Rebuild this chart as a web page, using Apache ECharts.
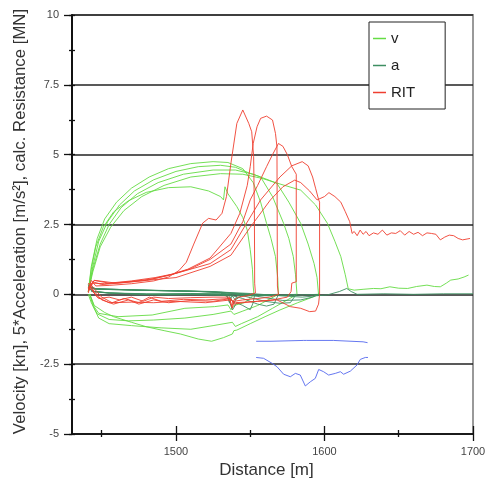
<!DOCTYPE html>
<html><head><meta charset="utf-8">
<script src="https://cdn.jsdelivr.net/npm/echarts@6/dist/echarts.min.js"></script>
<style>html,body{margin:0;padding:0;background:#fff;overflow:hidden}#c{width:485px;height:478px}</style>
</head><body><div id="c"></div>
<script>
// ---- x axis range / ticks ----
const xMin = 1430, xMax = 1700;
const xMajorTicks = [1500, 1600, 1700];
const xMinorTicks = [1450, 1550, 1650];
const yMin = -5, yMax = 10, yStep = 2.5;

// ---- velocity v [kn]: forward runs and reverse runs ----
const vRun1 = [[1441,0.1],[1443,0.9],[1446,1.7],[1451,2.4],[1458,2.95],[1468,3.35],[1480,3.65],[1495,3.82],[1510,3.85],[1522,3.7],[1530,3.5],[1532,3.38],[1533,3.85],[1535,3.6],[1541,3.14],[1545,2.75],[1548,2.3],[1550,1.6],[1551.5,0.9],[1552,0.3],[1552.5,0]];
const vBack1 = [[1552.5,0],[1550,-0.15],[1546,-0.3],[1539,-0.4],[1537,-0.55],[1535,-0.38],[1526,-0.44],[1506,-0.5],[1484,-0.74],[1461,-0.8],[1448,-0.68],[1445,-0.45],[1442,0]];
const vRun2 = [[1441,0.1],[1443,1.0],[1447,2.0],[1452,2.7],[1460,3.3],[1470,3.8],[1482,4.2],[1495,4.5],[1510,4.68],[1525,4.75],[1535,4.72],[1545,4.5],[1552,4.0],[1557,3.3],[1561,2.54],[1564,2.0],[1567,1.35],[1568.5,0.6],[1569,0]];
const vBack2 = [[1569,0],[1562,-0.2],[1555,-0.4],[1545,-0.6],[1539,-0.72],[1537,-0.6],[1525,-0.72],[1506,-0.85],[1485,-0.92],[1468,-0.95],[1455,-0.9],[1447,-0.7],[1443,-0.3],[1441,0]];
const vRun3 = [[1441,0.1],[1444,1.0],[1448,1.9],[1454,2.6],[1462,3.2],[1472,3.7],[1485,4.1],[1500,4.4],[1515,4.57],[1530,4.62],[1540,4.55],[1549,4.35],[1557,4.2],[1565,3.5],[1572.5,2.54],[1576,2.0],[1579,1.35],[1580.5,0.7],[1581.5,0]];
const vBack3 = [[1581.5,0],[1575,-0.2],[1565,-0.5],[1555,-0.8],[1544,-1.05],[1540,-1.15],[1538,-1.0],[1525,-1.12],[1510,-1.25],[1490,-1.2],[1470,-1.12],[1455,-1.05],[1448,-0.85],[1444,-0.4],[1442,0]];
const vRun4 = [[1441,0.1],[1444,0.9],[1449,1.8],[1455,2.5],[1463,3.1],[1474,3.6],[1488,4.0],[1505,4.3],[1525,4.45],[1540,4.45],[1552,4.3],[1562,4.1],[1568,3.97],[1576,3.3],[1584,2.54],[1589,1.8],[1593,1.1],[1595,0.6],[1596,0]];
const vBack4 = [[1596,0],[1592,-0.1],[1582,-0.3],[1570,-0.56],[1560,-0.8],[1550,-1.05],[1541,-1.28],[1539,-1.3],[1538,-1.42],[1532,-1.55],[1524,-1.68],[1515,-1.6],[1503,-1.42],[1492,-1.3],[1480,-1.16],[1470,-1.0],[1458,-0.8],[1452,-0.65],[1445,-0.4],[1442,0]];
const vRun5 = [[1441,0.1],[1444,0.8],[1449,1.7],[1456,2.4],[1465,3.0],[1477,3.5],[1492,3.9],[1510,4.2],[1530,4.32],[1545,4.3],[1558,4.15],[1570,3.95],[1584,3.73],[1594,3.2],[1602,2.54],[1607,1.9],[1611,1.35],[1614,0.7],[1616,0.2],[1620,0.15],[1626,0.18],[1633,0.21],[1638,0.2],[1644,0.27],[1650,0.22],[1656,0.21],[1662,0.28],[1669,0.33],[1674,0.28],[1678,0.27],[1682,0.4],[1685,0.51],[1690,0.55],[1694,0.62],[1697,0.69]];

// ---- 5*acceleration a ----
const aRun1 = [[1441,0.35],[1443,0.22],[1450,0.18],[1470,0.15],[1500,0.12],[1520,0.1],[1530,0.06],[1535,-0.1],[1538,-0.56],[1541,-0.3],[1545,-0.4],[1550,-0.55],[1552,-0.3],[1553,0]];
const aBack1 = [[1553,0],[1545,0.03],[1530,0.02],[1510,0.0],[1490,-0.02],[1470,0.02],[1455,0.05],[1445,0.1],[1441,0.2]];
const aRun2 = [[1441,0.3],[1445,0.2],[1465,0.17],[1490,0.13],[1515,0.1],[1530,0.06],[1538,-0.05],[1545,-0.15],[1555,-0.35],[1561,-0.42],[1566,-0.35],[1569,0]];
const aBack2 = [[1569,0],[1555,-0.02],[1538,0.0],[1536,-0.3],[1534,0.0],[1510,0.02],[1480,0.0],[1455,0.04],[1444,0.1],[1441,0.25]];
const aRun3 = [[1441,0.25],[1445,0.18],[1470,0.16],[1500,0.13],[1525,0.1],[1540,0.02],[1550,-0.12],[1560,-0.25],[1570,-0.32],[1577,-0.3],[1581,0]];
const aBack3 = [[1581,0],[1565,-0.05],[1545,-0.02],[1540,-0.2],[1537,0.0],[1510,0.03],[1480,0.0],[1455,0.05],[1443,0.1]];
const aRun4 = [[1441,0.3],[1446,0.2],[1475,0.15],[1505,0.12],[1530,0.08],[1545,0.02],[1560,-0.12],[1572,-0.22],[1584,-0.2],[1592,-0.1],[1596,0]];
const aBack4 = [[1596,0],[1580,-0.03],[1560,-0.05],[1541,-0.05],[1539,-0.35],[1536,-0.05],[1510,0.0],[1480,0.02],[1455,0.05],[1443,0.12]];
const aRun5 = [[1441,0.3],[1446,0.2],[1475,0.15],[1505,0.12],[1530,0.08],[1550,0.03],[1570,-0.05],[1585,-0.1],[1595,-0.05],[1602,-0.02],[1610,0.1],[1615,0.21],[1618,0.1],[1622,0.0],[1640,0.02],[1660,0.0],[1680,0.02],[1700,0.02]];

// ---- calc. resistance RIT [MN] ----
const ritRun1 = [[1441,0.2],[1443,0.5],[1446,0.3],[1455,0.32],[1470,0.38],[1485,0.48],[1495,0.62],[1502,0.85],[1507,1.15],[1512,1.8],[1518,2.55],[1522,2.72],[1527,2.66],[1531,2.9],[1534,3.5],[1537,4.69],[1541,6.12],[1545,6.6],[1549,6.12],[1551,5.82],[1552.3,4.93],[1552.8,3.0],[1553,0.4],[1553.5,0.05]];
const ritBack1 = [[1553.5,0.05],[1548,-0.05],[1542,-0.1],[1539,-0.2],[1537.5,-0.45],[1536,-0.1],[1525,-0.1],[1510,-0.12],[1495,-0.15],[1485,-0.1],[1478,-0.25],[1470,-0.1],[1462,-0.2],[1455,-0.1],[1448,-0.15],[1444,0.1],[1442,0.3],[1441,0.05]];
const ritRun2 = [[1441,0.15],[1444,0.45],[1450,0.35],[1465,0.42],[1480,0.5],[1495,0.68],[1508,0.9],[1523,1.3],[1537,2.18],[1543,2.9],[1548,3.9],[1550,4.57],[1552,5.4],[1554.6,6.0],[1557,6.3],[1561,6.38],[1565,6.24],[1567,5.76],[1568,5.28],[1568.3,0.3],[1569,0]];
const ritBack2 = [[1569,0],[1563,-0.1],[1555,-0.15],[1545,-0.2],[1539,-0.25],[1538,-0.5],[1536,-0.15],[1520,-0.2],[1505,-0.18],[1490,-0.25],[1482,-0.1],[1475,-0.3],[1465,-0.15],[1457,-0.3],[1450,-0.1],[1445,0.2],[1442,0.4]];
const ritRun3 = [[1441,0.1],[1444,0.4],[1452,0.38],[1468,0.45],[1484,0.55],[1498,0.72],[1510,0.92],[1523,1.25],[1537,1.8],[1545,2.6],[1550,3.38],[1555,3.9],[1561,4.57],[1565,5.0],[1569,5.4],[1572,5.3],[1575,5.0],[1578,4.57],[1581,4.3],[1581,0.45],[1578,0.4],[1577.5,0.1]];
const ritBack3 = [[1577.5,0.1],[1575,-0.1],[1565,-0.2],[1555,-0.25],[1545,-0.3],[1539,-0.35],[1537,-0.15],[1525,-0.25],[1510,-0.22],[1495,-0.3],[1485,-0.2],[1475,-0.35],[1468,-0.2],[1458,-0.35],[1450,-0.2],[1445,0.1],[1442,0.3]];
const ritRun4 = [[1441,0.25],[1445,0.5],[1455,0.4],[1470,0.48],[1486,0.6],[1500,0.75],[1523,1.1],[1537,1.6],[1547,2.5],[1557,3.38],[1570,4.2],[1578,4.6],[1585,4.75],[1589,4.6],[1592,4.2],[1594,3.8],[1596,3.4],[1596.7,3.3],[1596.7,0],[1596,-0.35]];
const ritBack4 = [[1596,-0.35],[1594,-0.6],[1590,-0.62],[1584,-0.5],[1577,-0.44],[1568,-0.2],[1555,-0.25],[1540,-0.3],[1537,-0.2],[1520,-0.3],[1500,-0.25],[1485,-0.3],[1470,-0.28],[1455,-0.3],[1447,-0.1],[1443,0.2],[1441,0.4]];
const ritRun5 = [[1441,0.2],[1445,0.5],[1460,0.4],[1480,0.5],[1500,0.6],[1523,1.0],[1537,1.4],[1550,2.4],[1563.6,3.38],[1572,3.85],[1580,4.09],[1584,4.0],[1590,3.7],[1595,3.38],[1600,3.5],[1603,3.64],[1607,3.5],[1611,3.3],[1614,2.96],[1617,2.6],[1618.6,2.18],[1620,2.25],[1622,2.1],[1624,2.3],[1626,2.15],[1628,2.25],[1630,2.1],[1633,2.2],[1636,2.15],[1639,2.3],[1642,2.12],[1645,2.2],[1648,2.18],[1651,2.28],[1654,2.12],[1657,2.25],[1660,2.15],[1663,2.22],[1666,2.1],[1669,2.2],[1672,2.18],[1675,2.15],[1678,1.95],[1681,2.05],[1684,2.12],[1687,2.1],[1690,2.0],[1693,1.95],[1696,1.98],[1698,2.0]];

// ---- blue profile lines ----
const blueUpper = [[1554,-1.68],[1564,-1.68],[1565,-1.65],[1586,-1.65],[1587,-1.72],[1588,-1.65],[1606,-1.65],[1607,-1.7],[1626,-1.7],[1629,-1.73]];
const blueLower = [[1554,-2.26],[1559,-2.29],[1564.7,-2.47],[1568,-2.59],[1572.5,-2.86],[1577,-2.95],[1580.4,-2.83],[1583.7,-2.89],[1587.1,-3.28],[1590.5,-3.13],[1593.8,-3.01],[1596.1,-2.69],[1599.4,-2.77],[1602.8,-2.89],[1607.3,-2.83],[1610.7,-2.77],[1612.9,-2.86],[1617.4,-2.75],[1621.9,-2.53],[1624.1,-2.33],[1627.5,-2.26],[1629.3,-2.26]];

const C_V = '#65dc44', C_A = '#3e8f62', C_R = '#ef3f30', C_B = '#5468ee';
const FONT = 'Liberation Sans, Arial, sans-serif';

function ln(name, data, color, z) {
  return { name, type: 'line', data, symbol: 'none', showSymbol: false, z: z,
    lineStyle: { color, width: 1, opacity: 0.9 }, itemStyle: { color },
    silent: true, animation: false };
}
const series = [];
[vRun1,vBack1,vRun2,vBack2,vRun3,vBack3,vRun4,vBack4,vRun5].forEach(d => series.push(ln('v', d, C_V, 2)));
[aRun1,aBack1,aRun2,aBack2,aRun3,aBack3,aRun4,aBack4,aRun5].forEach(d => series.push(ln('a', d, C_A, 3)));
[ritRun1,ritBack1,ritRun2,ritBack2,ritRun3,ritBack3,ritRun4,ritBack4,ritRun5].forEach(d => series.push(ln('RIT', d, C_R, 4)));
series.push(ln('ice1', blueUpper, C_B, 5));
series.push(ln('ice2', blueLower, C_B, 5));

const axisCol = '#111';
function tickAxis(vals, inside, len) {
  return { type: 'value', min: xMin, max: xMax, interval: 10, position: 'bottom', gridIndex: 0,
    axisLine: { show: false, onZero: false }, axisLabel: { show: false }, splitLine: { show: false },
    axisTick: { show: true, inside, length: len, customValues: vals, lineStyle: { color: axisCol, width: 1.3 } } };
}
function yTickAxis(inside) {
  return { type: 'value', min: yMin, max: yMax, interval: yStep / 2, position: 'left', gridIndex: 0,
    axisLine: { show: false, onZero: false }, axisLabel: { show: false }, splitLine: { show: false },
    axisTick: { show: true, inside, length: 3, lineStyle: { color: axisCol, width: 1.3 } } };
}
const chart = echarts.init(document.getElementById('c'), null, { renderer: 'canvas', width: 485, height: 478 });
chart.setOption({
  animation: false,
  textStyle: { fontFamily: FONT },
  grid: { left: 72, top: 15, width: 401, height: 419, containLabel: false, outerBoundsMode: 'none',
    show: true, borderColor: '#999', borderWidth: 2, backgroundColor: 'transparent' },
  legend: {
    data: ['v', 'a', 'RIT'], orient: 'vertical', left: 369, top: 22,
    backgroundColor: '#fff', borderColor: '#222', borderWidth: 1, borderRadius: 0,
    padding: [8, 30, 8, 4], icon: 'rect', itemWidth: 13, itemHeight: 1.5, itemGap: 10,
    textStyle: { fontSize: 15, color: '#222', fontFamily: FONT, lineHeight: 17 }, z: 10
  },
  xAxis: [
    { type: 'value', min: xMin, max: xMax, interval: 10, position: 'bottom',
      name: 'Distance [m]', nameLocation: 'middle', nameGap: 24,
      nameTextStyle: { fontSize: 17, color: '#333', fontFamily: FONT, padding: [0, 12, 0, 0] },
      axisLine: { show: true, onZero: false, lineStyle: { color: axisCol, width: 1.5 } },
      axisTick: { show: true, length: 7, customValues: xMajorTicks, lineStyle: { color: axisCol, width: 1.3 } },
      axisLabel: { customValues: xMajorTicks, formatter: v => String(v), margin: 12, fontSize: 11, color: '#444', fontFamily: FONT },
      splitLine: { show: false } },
    tickAxis(xMajorTicks, true, 8),
    tickAxis(xMinorTicks, true, 4),
    tickAxis(xMinorTicks, false, 3)
  ],
  yAxis: [
    { type: 'value', min: yMin, max: yMax, interval: yStep, position: 'left',
      name: 'Velocity [kn], 5*Acceleration [m/s²], calc. Resistance [MN]',
      nameLocation: 'middle', nameGap: 41,
      nameTextStyle: { fontSize: 16.8, color: '#333', fontFamily: FONT, padding: [0, 0, 0, 6] },
      axisLine: { show: true, onZero: false, lineStyle: { color: axisCol, width: 2 } },
      axisTick: { show: true, length: 8, lineStyle: { color: axisCol, width: 1.3 } },
      axisLabel: { margin: 13, fontSize: 11, color: '#444', fontFamily: FONT, formatter: v => String(v) },
      splitLine: { show: true, lineStyle: { color: '#222', width: 1.5 } } },
    yTickAxis(true),
    yTickAxis(false)
  ],
  series
});
</script></body></html>
